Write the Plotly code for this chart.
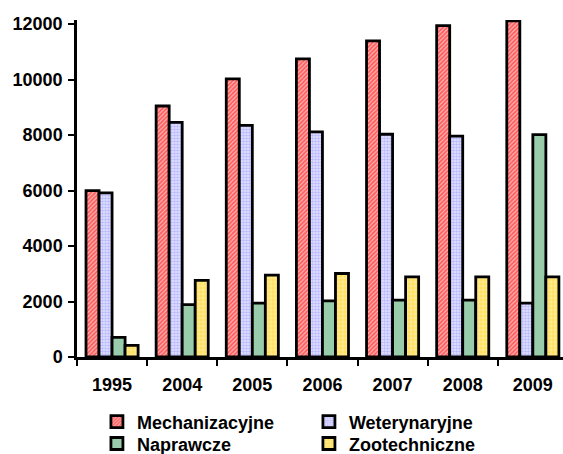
import plotly.graph_objects as go

# Employee counts per year, grouped by specialisation
years = ["1995", "2004", "2005", "2006", "2007", "2008", "2009"]
mechanizacyjne = [6000, 9050, 10030, 10750, 11400, 11950, 12120]
weterynaryjne = [5920, 8460, 8350, 8120, 8030, 7960, 1940]
naprawcze = [710, 1890, 1940, 2020, 2050, 2050, 8020]
zootechniczne = [420, 2760, 2950, 3010, 2890, 2890, 2890]

# (name, values, fill pattern or solid colour, legend row)
series = [
    ("Mechanizacyjne", mechanizacyjne,
     dict(shape="/", fgcolor="#FF0000", bgcolor="#FFB8B8", size=3, solidity=0.6), "legend"),
    ("Weterynaryjne", weterynaryjne,
     dict(shape=".", fgcolor="#8C8CFF", bgcolor="#E6E6FF", size=3, solidity=0.55), "legend"),
    ("Naprawcze", naprawcze, "#99CCAA", "legend2"),
    ("Zootechniczne", zootechniczne,
     dict(shape="+", fgcolor="#FFFFFF", bgcolor="#FFE060", size=4, solidity=0.3), "legend2"),
]

font_family = "Liberation Sans, Arial, sans-serif"

fig = go.Figure()
for name, values, fill, legend_id in series:
    marker = dict(line=dict(color="black", width=2.8))
    if isinstance(fill, dict):
        marker["color"] = fill["bgcolor"]
        marker["pattern"] = fill
    else:
        marker["color"] = fill
    fig.add_trace(go.Bar(name=name, x=years, y=values, marker=marker, legend=legend_id))


def legend_row(top):
    return dict(
        orientation="h",
        x=0.041,
        xanchor="left",
        yref="container",
        y=top,
        yanchor="top",
        entrywidth=167,
        entrywidthmode="pixels",
        traceorder="normal",
        font=dict(family=font_family, size=18, color="black", weight="bold"),
        itemwidth=30,
        bgcolor="rgba(0,0,0,0)",
    )


fig.update_layout(
    width=563,
    height=454,
    margin=dict(l=77, r=0, t=20, b=97),
    paper_bgcolor="white",
    plot_bgcolor="white",
    barmode="group",
    bargap=0.257,
    bargroupgap=0,
    font=dict(family=font_family, size=18, color="black"),
    legend=legend_row(0.1116),
    legend2=legend_row(0.0632),
    xaxis=dict(
        type="category",
        range=[-0.5, 6.43],
        showline=True,
        linecolor="black",
        linewidth=2.5,
        ticks="outside",
        tickson="boundaries",
        ticklen=6,
        tickwidth=2,
        tickcolor="black",
        ticklabelstandoff=10,
        tickfont=dict(family=font_family, size=18, color="black", weight="bold"),
        showgrid=False,
        zeroline=False,
    ),
    yaxis=dict(
        range=[0, 12150],
        tickvals=[0, 2000, 4000, 6000, 8000, 10000, 12000],
        ticktext=["0", "2000", "4000", "6000", "8000", "10000", "12000"],
        showline=True,
        linecolor="black",
        linewidth=2.5,
        ticks="outside",
        ticklen=6,
        tickwidth=2,
        tickcolor="black",
        ticklabelstandoff=2,
        tickfont=dict(family=font_family, size=18, color="black", weight="bold"),
        showgrid=False,
        zeroline=False,
    ),
)

fig.write_html("out.html")
